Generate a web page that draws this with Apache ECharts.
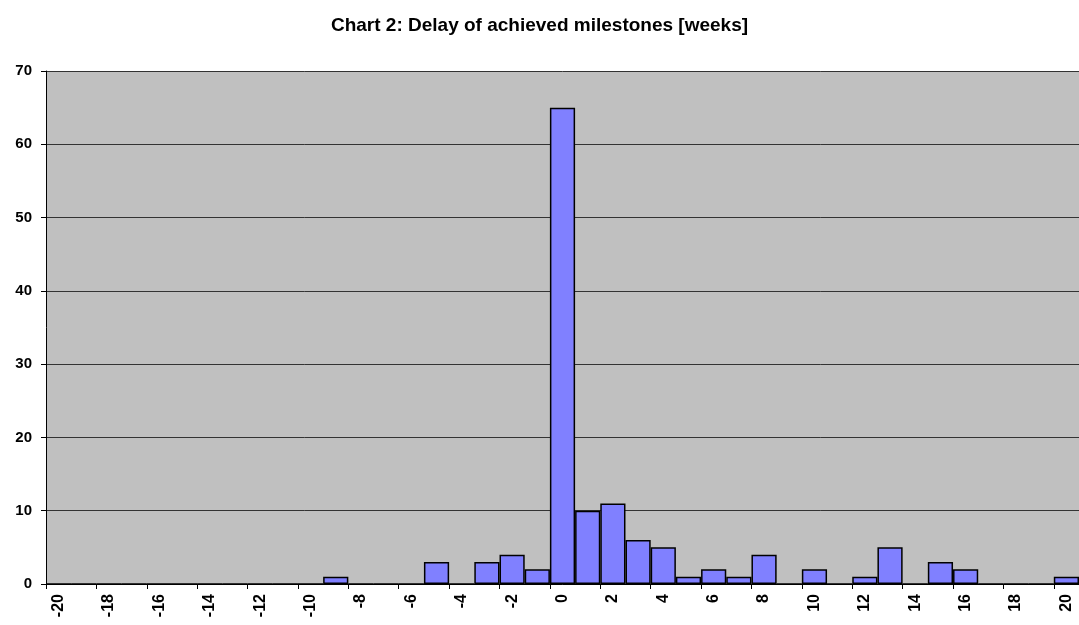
<!DOCTYPE html>
<html lang="en">
<head>
	<meta charset="UTF-8">
	<title>Chart 2</title>
	<script src="https://cdn.jsdelivr.net/npm/echarts@6/dist/echarts.min.js"></script>
	<style>
		html,body{width:100%;height:100%;margin:0;padding:0;background:#fff;}
		#chart{width:1079px;height:625px;}
	</style>
</head>
<body>
	<div id="chart"></div>
<script>
	// weeks of delay, -20 .. 20
	var weeks = [];
	for (var w = -20; w <= 20; w++) {
		weeks.push(String(w));
	}
	// number of milestones per delay
	var counts = [
		0, 0, 0, 0, 0, 0, 0, 0, 0, 0,   // -20 .. -11
		0, 1, 0, 0, 0, 3, 0, 3, 4, 2,   // -10 .. -1
		65,                             // 0
		10, 11, 6, 5, 1, 2, 1, 4, 0, 2, // 1 .. 10
		0, 1, 5, 0, 3, 2, 0, 0, 0, 1    // 11 .. 20
	];
	var yTicks = { min: 0, max: 70, interval: 10 };

	var font = '"Liberation Sans", Arial, sans-serif';
	var myChart = echarts.init(document.getElementById('chart'));
	var options = {
		animation: false,
		title: {
			text: 'Chart 2: Delay of achieved milestones [weeks]',
			left: 'center',
			top: 11,
			textStyle: { fontFamily: font, fontSize: 19, fontWeight: 'bold', color: '#000' }
		},
		grid: {
			show: true,
			backgroundColor: '#C0C0C0',
			borderWidth: 0,
			left: 46,
			top: 71,
			width: 1037,
			height: 513
		},
		xAxis: {
			type: 'category',
			data: weeks,
			boundaryGap: true,
			axisLine: { lineStyle: { color: '#000', width: 1 } },
			axisTick: { show: true, length: 5, lineStyle: { color: '#000' } },
			axisLabel: {
				interval: 1,
				rotate: 90,
				margin: 10,
				fontFamily: font,
				fontSize: 16,
				fontWeight: 'bold',
				color: '#000'
			},
			splitLine: { show: false }
		},
		yAxis: {
			type: 'value',
			min: yTicks.min,
			max: yTicks.max,
			interval: yTicks.interval,
			axisLine: { show: true, lineStyle: { color: '#000', width: 1 } },
			axisTick: { show: true, length: 5, lineStyle: { color: '#000' } },
			axisLabel: {
				margin: 14,
				fontFamily: font,
				fontSize: 15,
				fontWeight: 'bold',
				color: '#000'
			},
			splitLine: { show: true, lineStyle: { color: '#333', width: 1 } }
		},
		series: [{
			type: 'bar',
			data: counts,
			barCategoryGap: '0%',
			itemStyle: { color: '#8080FF', borderColor: '#000', borderWidth: 1.5 }
		}]
	};
	myChart.setOption(options);
</script>
</body>
</html>
